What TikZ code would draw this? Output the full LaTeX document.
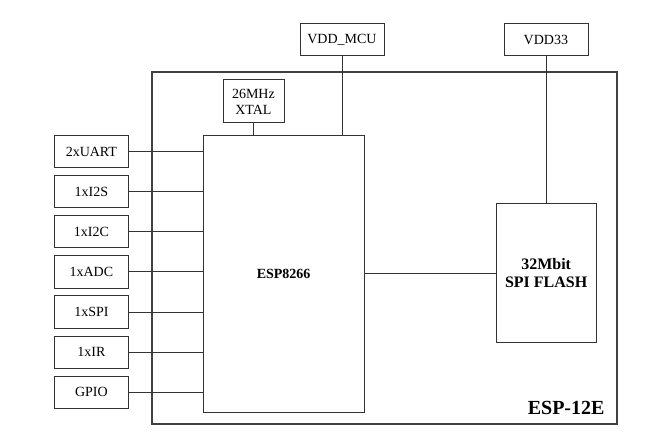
\documentclass[tikz,border=0pt]{standalone}
\usepackage{fontspec}
\setmainfont{Liberation Serif}
\begin{document}
\begin{tikzpicture}[x=1bp,y=-1bp,
  blk/.style={draw=black!80,line width=0.8bp,fill=white,inner sep=0pt,anchor=north west,font=\fontsize{14bp}{16bp}\selectfont,align=center},
  wire/.style={draw=black!80,line width=0.8bp}]
\useasboundingbox (0,0) rectangle (647,440);
% outer frame
\node[draw=black!75,line width=2bp,anchor=north west,minimum width=465bp,minimum height=352bp,inner sep=0pt] (frame) at (151,71) {};
\node[font=\bfseries\fontsize{20bp}{22bp}\selectfont,anchor=base east] (lbl) at (608,414) {ESP-12E};
% top supply boxes
\node[blk,minimum width=84bp,minimum height=32bp] (vmcu) at (299.5,23.5) {VDD\_MCU};
\node[blk,minimum width=84bp,minimum height=32bp] (v33) at (503.5,23.5) {VDD33};
% xtal
\node[blk,minimum width=61bp,minimum height=43bp] (xtal) at (222.5,79.5) {26MHz\\XTAL};
% main chip
\node[blk,minimum width=160.5bp,minimum height=276.5bp,font=\bfseries\fontsize{14bp}{16bp}\selectfont] (esp) at (203,135) {ESP8266};
% flash
\node[blk,minimum width=100.5bp,minimum height=138.5bp,font=\bfseries\fontsize{16bp}{18bp}\selectfont] (flash) at (495.5,203.5) {32Mbit\\SPI FLASH};
% peripheral boxes
\foreach \n/\t [count=\i from 0] in {uart/2xUART,iis/1xI2S,iic/1xI2C,adc/1xADC,spi/1xSPI,ir/1xIR,gpio/GPIO}{
  \node[blk,minimum width=74bp,minimum height=32bp] (\n) at (54,135.5+40*\i) {\t};
  \draw[wire] (\n.east) -- (\n.east -| esp.west);
}
% connectors
\draw[wire] (xtal.south) -- (xtal.south |- esp.north);
\draw[wire] (vmcu.south) -- (vmcu.south |- esp.north);
\draw[wire] (v33.south) -- (v33.south |- flash.north);
\draw[wire] (esp.east |- flash.west) -- (flash.west);
\end{tikzpicture}
\end{document}
